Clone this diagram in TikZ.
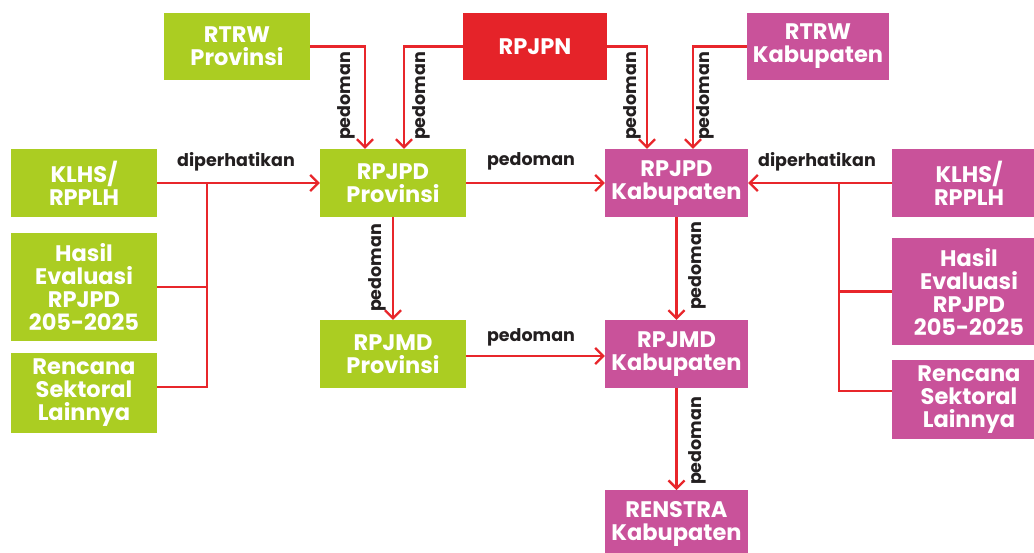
\documentclass[tikz,border=0pt]{standalone}
\usepackage{fontspec}
\setmainfont{Poppins}
\newfontfamily\labfont{Poppins}
\usetikzlibrary{arrows.meta}
\definecolor{grn}{HTML}{ABCD22}
\definecolor{mag}{HTML}{C9529A}
\definecolor{rd}{HTML}{E52329}
\definecolor{ln}{HTML}{E8262B}
\definecolor{txt}{HTML}{231F20}
\tikzset{
  box/.style={rectangle, inner sep=0pt, text=white, align=center,
    font=\fontsize{22.5}{23}\selectfont\bfseries},
  gbox/.style={box, fill=grn},
  mbox/.style={box, fill=mag},
  rbox/.style={box, fill=rd},
  conn/.style={draw=ln, line width=2.3pt},
  arr/.style={conn, -{Straight Barb[length=8pt,width=16pt,line width=2.3pt]}},
  lab/.style={text=txt, font=\fontsize{17.5}{18}\selectfont\labfont\bfseries, inner sep=0pt},
  vlab/.style={lab, rotate=90}
}
\begin{document}
\begin{tikzpicture}[x=1pt,y=-1pt]
\useasboundingbox (0,0) rectangle (1034,552);
% boxes
\node[gbox, minimum width=146pt, minimum height=67pt] (rtrwp) at (237,46.5) {RTRW\\Provinsi};
\node[rbox, minimum width=144pt, minimum height=67pt] (rpjpn) at (535,46.5) {RPJPN};
\node[mbox, minimum width=142pt, minimum height=67pt] (rtrwk) at (818,46.5) {RTRW\\Kabupaten};
\node[gbox, minimum width=146pt, minimum height=68pt] (klhsl) at (84,183) {KLHS/\\RPPLH};
\node[gbox, minimum width=146pt, minimum height=68pt] (rpjpdp) at (393,183) {RPJPD\\Provinsi};
\node[mbox, minimum width=143pt, minimum height=68pt] (rpjpdk) at (676.5,183) {RPJPD\\Kabupaten};
\node[mbox, minimum width=154pt, minimum height=68pt] (klhsr) at (969,183) {KLHS/\\RPPLH};
\node[gbox, minimum width=146pt, minimum height=108pt] (hasill) at (84,287) {Hasil\\Evaluasi\\RPJPD\\205-2025};
\node[gbox, minimum width=146pt, minimum height=80pt] (rencl) at (84,393) {Rencana\\Sektoral\\Lainnya};
\node[mbox, minimum width=154pt, minimum height=107pt] (hasilr) at (969,291.5) {Hasil\\Evaluasi\\RPJPD\\205-2025};
\node[mbox, minimum width=154pt, minimum height=79pt] (rencr) at (969,399.5) {Rencana\\Sektoral\\Lainnya};
\node[gbox, minimum width=146pt, minimum height=68pt] (rpjmdp) at (393,354) {RPJMD\\Provinsi};
\node[mbox, minimum width=143pt, minimum height=68pt] (rpjmdk) at (676.5,354) {RPJMD\\Kabupaten};
\node[mbox, minimum width=143pt, minimum height=68pt, anchor=north] (renstra) at (676.5,490) {RENSTRA\\Kabupaten};
% top connectors
\draw[arr] (rtrwp.east) -| ([xshift=-28pt]rpjpdp.north);
\draw[arr] (rpjpn.west) -| ([xshift=11pt]rpjpdp.north);
\draw[arr] (rpjpn.east) -| ([xshift=-29.5pt]rpjpdk.north);
\draw[arr] (rtrwk.west) -| ([xshift=16.5pt]rpjpdk.north);
% horizontal connectors
\draw[arr] (klhsl.east) -- (rpjpdp.west);
\draw[arr] (rpjpdp.east) -- (rpjpdk.west);
\draw[arr] (klhsr.west) -- (rpjpdk.east);
\draw[arr] ([yshift=-2pt]rpjmdp.east) -- ([yshift=-2pt]rpjmdk.west);
% vertical connectors
\draw[arr] (rpjpdp.south) -- (rpjmdp.north);
\draw[arr] (rpjpdk.south) -- (rpjmdk.north);
\draw[arr] (rpjmdk.south) -- (renstra.north);
% brackets
\coordinate (bl) at (207,183);
\coordinate (br) at (839,183);
\draw[conn] (hasill.east) -| (bl);
\draw[conn] ([yshift=6pt]rencl.east) -| (bl);
\draw[conn] (hasilr.west) -| (br);
\draw[conn] ([yshift=8.5pt]rencr.west) -| (br);
% labels
\node[lab] (l1) at (236,162) {diperhatikan};
\node[lab] (l2) at (817,162) {diperhatikan};
\node[lab] (l3) at (531,161) {pedoman};
\node[lab] (l4) at (531,337) {pedoman};
\node[vlab] (v1) at (346,96) {pedoman};
\node[vlab] (v2) at (421,96) {pedoman};
\node[vlab] (v3) at (632,96) {pedoman};
\node[vlab] (v4) at (705,96) {pedoman};
\node[vlab] (v5) at (377,268) {pedoman};
\node[vlab] (v6) at (697,266) {pedoman};
\node[vlab] (v7) at (697,441) {pedoman};
\end{tikzpicture}
\end{document}
